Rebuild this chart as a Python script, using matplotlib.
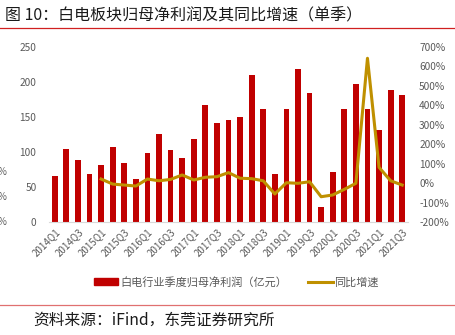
import matplotlib
matplotlib.use("Agg")
import matplotlib.pyplot as plt
from matplotlib.lines import Line2D
from matplotlib.patches import Patch
import numpy as np

plt.rcParams['font.family'] = ['Noto Sans CJK SC', 'DejaVu Sans']

quarters = [f"{y}Q{q}" for y in range(2014, 2022) for q in range(1, 5)][:31]
profit = [66, 105, 89, 69, 81, 107, 84, 62, 99, 126, 103, 91, 118, 167, 141, 146,
          150, 210, 162, 69, 162, 218, 185, 21, 71, 162, 197, 162, 131, 188, 182]
# 同比增速从2015Q1开始
yoy = [None] * 4 + [21, -5, -10, -15, 21, 12, 19, 42, 16, 30, 33, 54,
                    25, 23, 12, -56, 2, -1, 7, -70, -61, -32, -1, 642, 81, 12, -10]

red = "#C00000"
gold = "#BF9000"
grey = "#595959"

fig = plt.figure(figsize=(4.56, 3.35), dpi=100)
ax = fig.add_axes([49/456, 1-222/335, 359/456, 175/335])
x = np.arange(len(quarters))
ax.bar(x, profit, width=0.5, color=red, zorder=2)
ax.set_xlim(-0.5, len(quarters)-0.5)
ax.set_ylim(0, 250)
ax.set_yticks(range(0, 251, 50))
ax.set_xticks(x[::2])
ax.set_xticklabels(quarters[::2], rotation=45, ha='right', rotation_mode='anchor')
ax.tick_params(axis='both', length=0, labelsize=7.3, colors=grey, pad=9)
ax.tick_params(axis='x', labelsize=7, pad=3)
for s in ['top', 'right', 'left']:
    ax.spines[s].set_visible(False)
ax.spines['bottom'].set_color('#D9D9D9')

ax2 = ax.twinx()
xi = [i for i, v in enumerate(yoy) if v is not None]
yv = [v for v in yoy if v is not None]
ax2.plot(xi, yv, color=gold, lw=2.2, zorder=3)
ax2.set_ylim(-200, 700)
ax2.set_yticks(range(-200, 701, 100))
ax2.set_yticklabels([f"{v}%" for v in range(-200, 701, 100)])
ax2.tick_params(axis='y', length=0, labelsize=7.3, colors=grey, pad=8)
for s in ax2.spines.values():
    s.set_visible(False)

fig.text(5/456, 1-16/335, "图 10：白电板块归母净利润及其同比增速（单季）",
         fontsize=11.5, va='center', ha='left', color='#1a1a1a')
fig.add_artist(Line2D([0, 1], [1-28/335, 1-28/335], color='#D02020', lw=0.9))
fig.add_artist(Line2D([0, 1], [1-305/335, 1-305/335], color='#E07070', lw=0.9))

handles = [Patch(color=red), Line2D([], [], color=gold, lw=2.2)]
labels = ["白电行业季度归母净利润（亿元）", "同比增速"]
fig.legend(handles, labels, loc='center left', bbox_to_anchor=(84/456, 1-282/335),
           ncol=2, frameon=False, fontsize=8, labelcolor=grey,
           handlelength=2.2, handleheight=0.55, columnspacing=1.9, handletextpad=0.15)

fig.text(33/456, 1-320/335, "资料来源：iFind，东莞证券研究所", fontsize=11.3,
         va='center', ha='left', color='#1a1a1a')

# 左侧残留的百分号
for yy in [172, 197, 222]:
    fig.text(-2/456, 1-yy/335, "%", fontsize=7, color=grey, va='center', ha='left')

fig.savefig("out.png", dpi=100)
